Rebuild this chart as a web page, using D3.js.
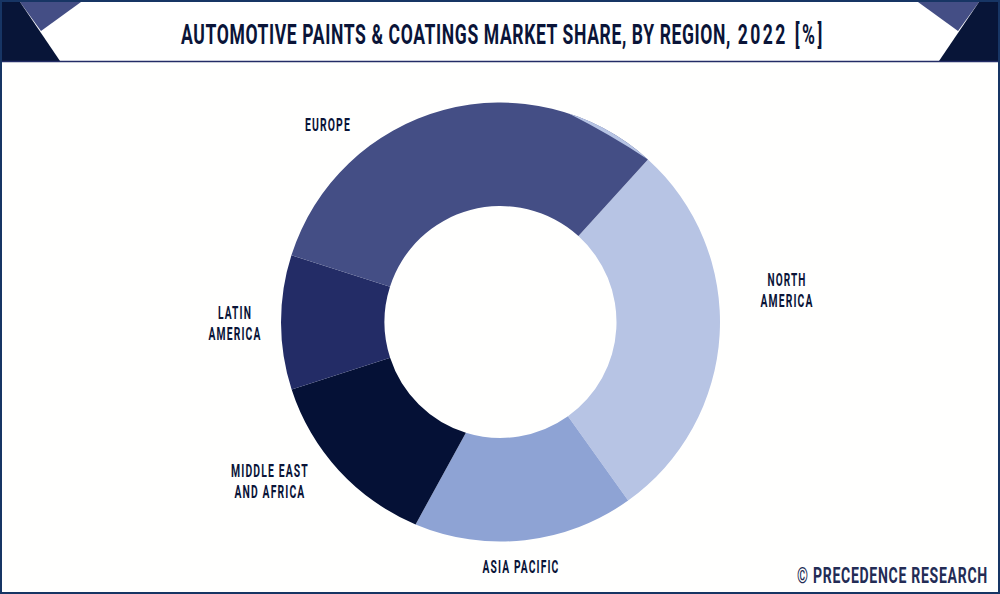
<!DOCTYPE html>
<html><head><meta charset="utf-8">
<script src="https://cdn.jsdelivr.net/npm/d3@7"></script>
<style>html,body{margin:0;padding:0;background:#fffffe}svg{display:block}text{font-family:"Roboto",sans-serif;font-weight:700}</style>
</head><body><svg id="c" width="1000" height="594"></svg>
<script>
const titleMain = "AUTOMOTIVE PAINTS & COATINGS MARKET SHARE, BY REGION,";
const titleYear = " 2022 [%]";
const creditText = "© PRECEDENCE RESEARCH";
const regions = ["North America","Asia Pacific","Middle East and Africa","Latin America","Europe"];
const shares = [28.4,16.2,13.7,9.9,31.8];
const colors = ["#b7c4e4","#8ea3d4","#051136","#232c66","#444e85"];
const labelLines = [["NORTH","AMERICA"],["ASIA PACIFIC"],["MIDDLE EAST","AND AFRICA"],["LATIN","AMERICA"],["EUROPE"]];
const labelAnchors = [[787,290],[521,566],[270,481],[235,323],[328,124]];
const labelWidths = [[39,53],[77],[78,71],[34,53],[46]];
const innerSkewDeg = [0,0,-5.4,0,0]; // start boundary of each slice, inner edge offset

const svg = d3.select("#c");
const navy = "#173564";
svg.append("rect").attr("width",1000).attr("height",594).attr("fill","#fffffe");
svg.append("rect").attr("width",1000).attr("height",62).attr("fill","#ffffff");

const tri = d3.line();
const corners = [
  {p:[[20,2],[81,2],[41,31]],f:"#444e85"},
  {p:[[0,2],[20,2],[60,61],[0,61]],f:"#081538"},
  {p:[[918,2],[979,2],[958,31]],f:"#444e85"},
  {p:[[979,2],[1000,2],[1000,61],[939,61]],f:"#081538"}
];
svg.selectAll(".corner").data(corners).join("path").attr("class","corner")
  .attr("d",d=>tri(d.p)+"Z").attr("fill",d=>d.f);
svg.append("line").attr("x1",0).attr("x2",1000).attr("y1",61.5).attr("y2",61.5).attr("stroke","#232c66").attr("stroke-width",1.5);
svg.append("rect").attr("x",1).attr("y",1).attr("width",998).attr("height",592)
  .attr("fill","none").attr("stroke",navy).attr("stroke-width",2);

function fitText(parts,left,baseline,size,width,fill,spacing){
  const t = svg.append("text").attr("font-size",size).attr("fill",fill).attr("xml:space","preserve").style("white-space","pre");
  parts.forEach((s,i)=>t.append("tspan").style("letter-spacing",spacing[i]+"em").text(s));
  const len = t.node().getComputedTextLength();
  t.attr("transform",`translate(${left},${baseline}) scale(${(width/len).toFixed(4)},1)`);
  return t;
}

fitText([titleMain,titleYear],181,44.3,28,644,"#0a1438",[0.035,0.14]);

const cx=500.5, cy=322, R=219.5, r=116;
const start = 42.2*Math.PI/180;
const pie = d3.pie().sort(null).startAngle(start).endAngle(start+2*Math.PI);
const rad = d=>d*Math.PI/180;
const q = Math.PI/2;
const g = svg.append("g").attr("transform",`translate(${cx},${cy})`);
const arcs = pie(shares);
g.selectAll("path.slice").data(arcs).join("path").attr("class","slice")
  .attr("fill",(d,i)=>colors[i])
  .attr("d",(d,i)=>{
    const p = d3.path();
    const n = arcs.length;
    const b0 = d.startAngle+rad(innerSkewDeg[i]), b1 = d.endAngle+rad(innerSkewDeg[(i+1)%n]);
    p.arc(0,0,R,d.startAngle-q,d.endAngle-q,false);
    p.arc(0,0,r,b1-q,b0-q,true);
    p.closePath();
    return p.toString();
  });

// thin pale sliver along the top outer edge of the Europe slice
const sl0 = rad(18), sl1 = start;
const pt = a=>[R*Math.sin(a),-R*Math.cos(a)];
const [x0,y0]=pt(sl0), [x1,y1]=pt(sl1);
g.append("path").attr("fill","#b7c4e4")
  .attr("d",`M${x0},${y0}A${R},${R} 0 0 1 ${x1},${y1}A800,800 0 0 0 ${x0},${y0}Z`);

regions.forEach((name,i)=>{
  const lines = labelLines[i], [x,y] = labelAnchors[i];
  lines.forEach((ln,j)=>{
    const w = labelWidths[i][j];
    fitText([ln],x-w/2,y+(j-(lines.length-1)/2)*20.8+6.5,18,w,"#0a1438",[0.11]);
  });
});

fitText([creditText],797,583,22.5,191,"#232c55",[0.05]);
</script></body></html>
